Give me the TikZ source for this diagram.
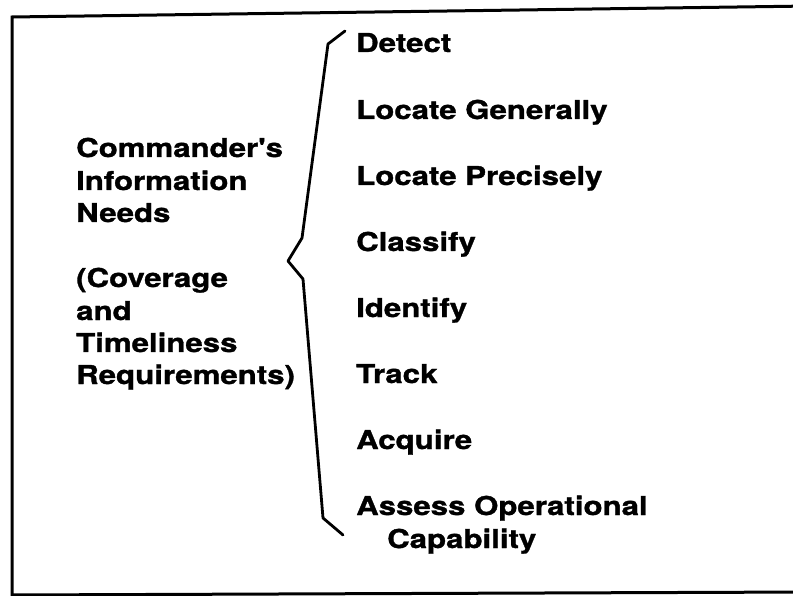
\documentclass[tikz,border=0pt]{standalone}
\usepackage{fontspec}
\newfontfamily\hv{TeX Gyre Heros}[FakeStretch=1.2, BoldFeatures={FakeBold=1.2}]
\begin{document}
\begin{tikzpicture}[x=1pt,y=-1pt,
  lbl/.style={anchor=base west, inner sep=0pt, font={\hv\bfseries\fontsize{26}{32}\selectfont}},
  frame/.style={line width=3pt},
  bracel/.style={line width=2.8pt, line join=round, line cap=round}]
\useasboundingbox (0,0) rectangle (793,596);
% frame (right side lies outside the picture)
\draw[frame] (810,6) -- (12,17) -- (12,600);
\draw[frame] (12,595) -- (810,592);
% left text
\node[lbl] (c1) at (76,157) {Commander's};
\node[lbl] (c2) at (76,190) {Information};
\node[lbl] (c3) at (76,222) {Needs};
\node[lbl] (c4) at (76,287) {(Coverage};
\node[lbl] (c5) at (76,320) {and};
\node[lbl] (c6) at (76,352) {Timeliness};
\node[lbl] (c7) at (76,384) {Requirements)};
% brace
\coordinate (btop) at (345,31);
\coordinate (bcusp) at (288,261);
\coordinate (bbot) at (343,535);
\draw[bracel] (btop) -- (328,44) -- (302,238) -- (bcusp) -- (303,279) -- (323,518) -- (bbot);
% right items
\node[lbl] (r1) at (356,52) {Detect};
\node[lbl] (r2) at (356,119) {Locate Generally};
\node[lbl] (r3) at (356,185) {Locate Precisely};
\node[lbl] (r4) at (356,251) {Classify};
\node[lbl] (r5) at (356,317) {Identify};
\node[lbl] (r6) at (356,383) {Track};
\node[lbl] (r7) at (356,449) {Acquire};
\node[lbl] (r8) at (356,515) {Assess Operational};
\node[lbl] (r9) at (387,548) {Capability};
\end{tikzpicture}
\end{document}
